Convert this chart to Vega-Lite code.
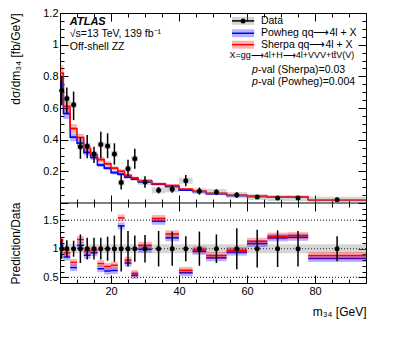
{
  "$schema": "https://vega.github.io/schema/vega-lite/v6.json",
  "padding": {"left": 9, "top": 7, "right": 5, "bottom": 5},
  "width": 306,
  "height": 270,
  "config": {
    "font": "Liberation Sans",
    "view": {"stroke": "black", "strokeWidth": 1},
    "axis": {"grid": false, "domain": false, "minExtent": 0, "tickColor": "black", "tickWidth": 1, "labelColor": "black", "labelFont": "Liberation Sans", "labelFontSize": 11, "titleFont": "Liberation Sans", "titleFontSize": 12, "titleFontWeight": "normal", "titleColor": "black", "labelPadding": 10, "labelOverlap": false, "labelFlush": false}
  },
  "datasets": {
    "bins": [
      {"lo":5,"hi":6,"c":5.5,"d":0.71,"dlo":0.617,"dhi":0.804,"r":0.82,"rl":0.77,"rh":0.87,"b":0.75,"bl":0.705,"bh":0.795,"rr":1.15,"rb":1.06,"elo":0.825,"ehi":1.175},
      {"lo":6,"hi":8,"c":7,"d":0.66,"dlo":0.565,"dhi":0.73,"r":0.61,"rl":0.573,"rh":0.647,"b":0.565,"bl":0.531,"bh":0.599,"rr":0.93,"rb":0.855,"elo":0.85,"ehi":1.15},
      {"lo":8,"hi":10,"c":9,"d":0.62,"dlo":0.523,"dhi":0.704,"r":0.47,"rl":0.442,"rh":0.498,"b":0.415,"bl":0.39,"bh":0.44,"rr":0.76,"rb":0.67,"elo":0.86,"ehi":1.14},
      {"lo":10,"hi":12,"c":11,"d":0.356,"dlo":0.279,"dhi":0.4125,"r":0.413,"rl":0.388,"rh":0.438,"b":0.377,"bl":0.354,"bh":0.4,"rr":1.16,"rb":1.06,"elo":0.75,"ehi":1.25},
      {"lo":12,"hi":14,"c":13,"d":0.36,"dlo":0.283,"dhi":0.43,"r":0.345,"rl":0.324,"rh":0.366,"b":0.319,"bl":0.3,"bh":0.338,"rr":0.96,"rb":0.885,"elo":0.81,"ehi":1.19},
      {"lo":14,"hi":16,"c":15,"d":0.31,"dlo":0.252,"dhi":0.356,"r":0.304,"rl":0.286,"rh":0.322,"b":0.288,"bl":0.271,"bh":0.305,"rr":0.98,"rb":0.93,"elo":0.81,"ehi":1.19},
      {"lo":16,"hi":18,"c":17,"d":0.37,"dlo":0.283,"dhi":0.45,"r":0.274,"rl":0.258,"rh":0.29,"b":0.24,"bl":0.226,"bh":0.254,"rr":0.74,"rb":0.65,"elo":0.81,"ehi":1.19},
      {"lo":18,"hi":20,"c":19,"d":0.36,"dlo":0.283,"dhi":0.44,"r":0.248,"rl":0.233,"rh":0.263,"b":0.22,"bl":0.207,"bh":0.233,"rr":0.69,"rb":0.61,"elo":0.79,"ehi":1.21},
      {"lo":20,"hi":22,"c":21,"d":0.31,"dlo":0.242,"dhi":0.377,"r":0.22,"rl":0.207,"rh":0.233,"b":0.192,"bl":0.18,"bh":0.204,"rr":0.71,"rb":0.62,"elo":0.77,"ehi":1.23},
      {"lo":22,"hi":24,"c":23,"d":0.13,"dlo":0.086,"dhi":0.179,"r":0.2,"rl":0.188,"rh":0.212,"b":0.182,"bl":0.171,"bh":0.193,"rr":1.54,"rb":1.4,"elo":0.6,"ehi":1.4},
      {"lo":24,"hi":26,"c":25,"d":0.217,"dlo":0.169,"dhi":0.273,"r":0.174,"rl":0.164,"rh":0.184,"b":0.163,"bl":0.153,"bh":0.173,"rr":0.8,"rb":0.75,"elo":0.69,"ehi":1.31},
      {"lo":26,"hi":28,"c":27,"d":0.28,"dlo":0.217,"dhi":0.342,"r":0.158,"rl":0.149,"rh":0.167,"b":0.15,"bl":0.141,"bh":0.159,"rr":0.565,"rb":0.535,"elo":0.77,"ehi":1.23},
      {"lo":28,"hi":32,"c":30,"d":0.133,"dlo":0.096,"dhi":0.169,"r":0.141,"rl":0.133,"rh":0.149,"b":0.132,"bl":0.124,"bh":0.14,"rr":1.06,"rb":0.99,"elo":0.76,"ehi":1.24},
      {"lo":32,"hi":36,"c":34,"d":0.08,"dlo":0.061,"dhi":0.102,"r":0.122,"rl":0.115,"rh":0.129,"b":0.118,"bl":0.111,"bh":0.125,"rr":1.53,"rb":1.48,"elo":0.69,"ehi":1.31},
      {"lo":36,"hi":40,"c":38,"d":0.087,"dlo":0.064,"dhi":0.1125,"r":0.11,"rl":0.103,"rh":0.117,"b":0.104,"bl":0.098,"bh":0.11,"rr":1.26,"rb":1.19,"elo":0.7,"ehi":1.3},
      {"lo":40,"hi":44,"c":42,"d":0.14,"dlo":0.106,"dhi":0.177,"r":0.087,"rl":0.082,"rh":0.092,"b":0.081,"bl":0.076,"bh":0.086,"rr":0.62,"rb":0.58,"elo":0.78,"ehi":1.22},
      {"lo":44,"hi":48,"c":46,"d":0.075,"dlo":0.053,"dhi":0.098,"r":0.074,"rl":0.07,"rh":0.078,"b":0.072,"bl":0.068,"bh":0.076,"rr":0.98,"rb":0.955,"elo":0.7,"ehi":1.3},
      {"lo":48,"hi":54,"c":51,"d":0.069,"dlo":0.052,"dhi":0.086,"r":0.061,"rl":0.057,"rh":0.065,"b":0.058,"bl":0.055,"bh":0.061,"rr":0.88,"rb":0.84,"elo":0.75,"ehi":1.25},
      {"lo":54,"hi":60,"c":57,"d":0.05,"dlo":0.032,"dhi":0.068,"r":0.0485,"rl":0.046,"rh":0.051,"b":0.047,"bl":0.044,"bh":0.05,"rr":0.97,"rb":0.94,"elo":0.64,"ehi":1.36},
      {"lo":60,"hi":66,"c":63,"d":0.0375,"dlo":0.025,"dhi":0.05,"r":0.042,"rl":0.04,"rh":0.044,"b":0.041,"bl":0.039,"bh":0.043,"rr":1.13,"rb":1.09,"elo":0.67,"ehi":1.33},
      {"lo":66,"hi":72,"c":69,"d":0.031,"dlo":0.021,"dhi":0.041,"r":0.038,"rl":0.036,"rh":0.04,"b":0.037,"bl":0.035,"bh":0.039,"rr":1.22,"rb":1.19,"elo":0.68,"ehi":1.32},
      {"lo":72,"hi":78,"c":75,"d":0.031,"dlo":0.021,"dhi":0.041,"r":0.038,"rl":0.036,"rh":0.04,"b":0.037,"bl":0.035,"bh":0.039,"rr":1.23,"rb":1.2,"elo":0.69,"ehi":1.31},
      {"lo":78,"hi":95,"c":86.5,"d":0.02,"dlo":0.0156,"dhi":0.0244,"r":0.0176,"rl":0.0166,"rh":0.0186,"b":0.0166,"bl":0.0156,"bh":0.0176,"rr":0.88,"rb":0.83,"elo":0.78,"ehi":1.22}
    ]
  },
  "resolve": {"scale": {"y": "independent"}, "axis": {"x": "independent", "y": "independent"}},
  "layer": [
    {
      "data": {"name": "bins"},
      "resolve": {"axis": {"x": "independent", "y": "independent"}},
      "layer": [
        {
          "mark": {"type": "point", "opacity": 0},
          "encoding": {
            "x": {"datum": 5, "type": "quantitative", "scale": {"domain": [5, 95], "nice": false, "zero": false},
              "axis": {"orient": "bottom", "offset": -80, "values": [5,10,15,20,25,30,35,40,45,50,55,60,65,70,75,80,85,90,95], "tickSize": {"condition": {"test": "datum.value % 20 === 0", "value": -8}, "value": -4}, "labels": false, "title": null}},
            "y": {"datum": 0.5, "type": "quantitative", "scale": {"domain": [0, 1.2], "range": [190, 0], "nice": false, "zero": false},
              "axis": {"orient": "left", "values": [0,0.05,0.1,0.15,0.2,0.25,0.3,0.35,0.4,0.45,0.5,0.55,0.6,0.65,0.7,0.75,0.8,0.85,0.9,0.95,1,1.05,1.1,1.15,1.2], "tickSize": {"condition": {"test": "abs(datum.value*5 - round(datum.value*5)) < 0.001", "value": -8}, "value": -4}, "format": "~g", "labelExpr": "abs(datum.value*5 - round(datum.value*5)) < 0.001 && datum.value > 0.01 ? datum.label : ''", "title": "dσ/dm₃₄ [fb/GeV]", "titleAnchor": "end", "titlePadding": 20}}
          }
        },
        {
          "mark": {"type": "point", "opacity": 0},
          "encoding": {
            "x": {"datum": 5, "type": "quantitative",
              "axis": {"orient": "top", "values": [5,10,15,20,25,30,35,40,45,50,55,60,65,70,75,80,85,90,95], "tickSize": {"condition": {"test": "datum.value % 20 === 0", "value": -8}, "value": -4}, "labels": false, "title": null}},
            "y": {"datum": 0.5, "type": "quantitative",
              "axis": {"orient": "right", "values": [0,0.05,0.1,0.15,0.2,0.25,0.3,0.35,0.4,0.45,0.5,0.55,0.6,0.65,0.7,0.75,0.8,0.85,0.9,0.95,1,1.05,1.1,1.15,1.2], "tickSize": {"condition": {"test": "abs(datum.value*5 - round(datum.value*5)) < 0.001", "value": -8}, "value": -4}, "labels": false, "title": null}}
          }
        },
        {
          "data": {"values": [{}]},
          "mark": {"type": "rule", "color": "black", "strokeWidth": 1},
          "encoding": {"y": {"datum": 0, "type": "quantitative", "axis": null}}
        },
        {
          "mark": {"type": "rect", "color": "#0000ff", "opacity": 0.3},
          "encoding": {
            "x": {"field": "lo", "type": "quantitative", "axis": null}, "x2": {"field": "hi"},
            "y": {"field": "bl", "type": "quantitative", "axis": null}, "y2": {"field": "bh"}
          }
        },
        {
          "mark": {"type": "rect", "color": "#ff0000", "opacity": 0.3},
          "encoding": {
            "x": {"field": "lo", "type": "quantitative", "axis": null}, "x2": {"field": "hi"},
            "y": {"field": "rl", "type": "quantitative", "axis": null}, "y2": {"field": "rh"}
          }
        },
        {
          "mark": {"type": "line", "interpolate": "step-after", "color": "#0000ff", "strokeWidth": 1.5},
          "encoding": {
            "x": {"field": "lo", "type": "quantitative", "axis": null},
            "y": {"field": "b", "type": "quantitative", "axis": null}
          }
        },
        {
          "mark": {"type": "rule", "color": "#0000ff", "strokeWidth": 1.5},
          "encoding": {
            "x": {"field": "lo", "type": "quantitative", "axis": null}, "x2": {"field": "hi"},
            "y": {"field": "b", "type": "quantitative", "axis": null}
          }
        },
        {
          "mark": {"type": "line", "interpolate": "step-after", "color": "#ff0000", "strokeWidth": 1.5},
          "encoding": {
            "x": {"field": "lo", "type": "quantitative", "axis": null},
            "y": {"field": "r", "type": "quantitative", "axis": null}
          }
        },
        {
          "mark": {"type": "rule", "color": "#ff0000", "strokeWidth": 1.5},
          "encoding": {
            "x": {"field": "lo", "type": "quantitative", "axis": null}, "x2": {"field": "hi"},
            "y": {"field": "r", "type": "quantitative", "axis": null}
          }
        },
        {
          "mark": {"type": "rule", "color": "#888888", "opacity": 0.35, "strokeWidth": 6},
          "encoding": {
            "x": {"field": "lo", "type": "quantitative", "axis": null}, "x2": {"field": "hi"},
            "y": {"field": "d", "type": "quantitative", "axis": null}
          }
        },
        {
          "mark": {"type": "rule", "color": "black", "strokeWidth": 1.5},
          "encoding": {
            "x": {"field": "c", "type": "quantitative", "axis": null},
            "y": {"field": "dlo", "type": "quantitative", "axis": null}, "y2": {"field": "dhi"}
          }
        },
        {
          "mark": {"type": "circle", "color": "black", "opacity": 1, "size": 25},
          "encoding": {
            "x": {"field": "c", "type": "quantitative", "axis": null},
            "y": {"field": "d", "type": "quantitative", "axis": null}
          }
        },
        {
          "data": {"values": [{}]},
          "mark": {"type": "text", "text": "ATLAS", "fontWeight": "bold", "fontStyle": "italic", "fontSize": 11, "align": "left", "baseline": "middle"},
          "encoding": {"x": {"datum": 7.9, "type": "quantitative", "axis": null}, "y": {"datum": 1.143, "type": "quantitative", "axis": null}}
        },
        {
          "data": {"values": [{}]},
          "mark": {"type": "text", "text": "√s=13 TeV, 139 fb⁻¹", "fontSize": 10.5, "align": "left", "baseline": "middle"},
          "encoding": {"x": {"datum": 7.9, "type": "quantitative", "axis": null}, "y": {"datum": 1.067, "type": "quantitative", "axis": null}}
        },
        {
          "data": {"values": [{}]},
          "mark": {"type": "text", "text": "Off-shell ZZ", "fontSize": 10.5, "align": "left", "baseline": "middle"},
          "encoding": {"x": {"datum": 7.9, "type": "quantitative", "axis": null}, "y": {"datum": 0.985, "type": "quantitative", "axis": null}}
        },
        {
          "data": {"values": [{}]},
          "mark": {"type": "rect", "color": "#888888", "opacity": 0.35},
          "encoding": {"x": {"datum": 55.6, "type": "quantitative", "axis": null}, "x2": {"datum": 62.1}, "y": {"datum": 1.125, "type": "quantitative", "axis": null}, "y2": {"datum": 1.175}}
        },
        {
          "data": {"values": [{}]},
          "mark": {"type": "rule", "color": "black", "strokeWidth": 1.5},
          "encoding": {"x": {"datum": 55.6, "type": "quantitative", "axis": null}, "x2": {"datum": 62.1}, "y": {"datum": 1.15, "type": "quantitative", "axis": null}}
        },
        {
          "data": {"values": [{}]},
          "mark": {"type": "circle", "color": "black", "opacity": 1, "size": 25},
          "encoding": {"x": {"datum": 58.85, "type": "quantitative", "axis": null}, "y": {"datum": 1.15, "type": "quantitative", "axis": null}}
        },
        {
          "data": {"values": [{}]},
          "mark": {"type": "rect", "color": "#0000ff", "opacity": 0.3},
          "encoding": {"x": {"datum": 55.6, "type": "quantitative", "axis": null}, "x2": {"datum": 62.1}, "y": {"datum": 1.047, "type": "quantitative", "axis": null}, "y2": {"datum": 1.097}}
        },
        {
          "data": {"values": [{}]},
          "mark": {"type": "rule", "color": "#0000ff", "strokeWidth": 1.5},
          "encoding": {"x": {"datum": 55.6, "type": "quantitative", "axis": null}, "x2": {"datum": 62.1}, "y": {"datum": 1.072, "type": "quantitative", "axis": null}}
        },
        {
          "data": {"values": [{}]},
          "mark": {"type": "rect", "color": "#ff0000", "opacity": 0.3},
          "encoding": {"x": {"datum": 55.6, "type": "quantitative", "axis": null}, "x2": {"datum": 62.1}, "y": {"datum": 0.975, "type": "quantitative", "axis": null}, "y2": {"datum": 1.025}}
        },
        {
          "data": {"values": [{}]},
          "mark": {"type": "rule", "color": "#ff0000", "strokeWidth": 1.5},
          "encoding": {"x": {"datum": 55.6, "type": "quantitative", "axis": null}, "x2": {"datum": 62.1}, "y": {"datum": 1.0, "type": "quantitative", "axis": null}}
        },
        {
          "data": {"values": [{}]},
          "mark": {"type": "text", "text": "Data", "fontSize": 10.5, "align": "left", "baseline": "middle"},
          "encoding": {"x": {"datum": 64.1, "type": "quantitative", "axis": null}, "y": {"datum": 1.15, "type": "quantitative", "axis": null}}
        },
        {
          "data": {"values": [{}]},
          "mark": {"type": "text", "text": "Powheg qq⟶4l + X", "fontSize": 10.5, "align": "left", "baseline": "middle"},
          "encoding": {"x": {"datum": 64.1, "type": "quantitative", "axis": null}, "y": {"datum": 1.072, "type": "quantitative", "axis": null}}
        },
        {
          "data": {"values": [{}]},
          "mark": {"type": "text", "text": "Sherpa qq⟶4l + X", "fontSize": 10.5, "align": "left", "baseline": "middle"},
          "encoding": {"x": {"datum": 64.1, "type": "quantitative", "axis": null}, "y": {"datum": 1.0, "type": "quantitative", "axis": null}}
        },
        {
          "data": {"values": [{}]},
          "mark": {"type": "text", "text": "X=gg⟶4l+H⟶4l+VVV+tt̄V(V)", "fontSize": 9, "align": "center", "baseline": "middle"},
          "encoding": {"x": {"datum": 73.2, "type": "quantitative", "axis": null}, "y": {"datum": 0.933, "type": "quantitative", "axis": null}}
        },
        {
          "data": {"values": [{}]},
          "mark": {"type": "text", "text": "p", "fontStyle": "italic", "fontSize": 10.5, "align": "left", "baseline": "middle"},
          "encoding": {"x": {"datum": 61.5, "type": "quantitative", "axis": null}, "y": {"datum": 0.84, "type": "quantitative", "axis": null}}
        },
        {
          "data": {"values": [{}]},
          "mark": {"type": "text", "text": "-val (Sherpa)=0.03", "fontSize": 10.5, "align": "left", "baseline": "middle"},
          "encoding": {"x": {"datum": 63.2, "type": "quantitative", "axis": null}, "y": {"datum": 0.84, "type": "quantitative", "axis": null}}
        },
        {
          "data": {"values": [{}]},
          "mark": {"type": "text", "text": "p", "fontStyle": "italic", "fontSize": 10.5, "align": "left", "baseline": "middle"},
          "encoding": {"x": {"datum": 61.5, "type": "quantitative", "axis": null}, "y": {"datum": 0.764, "type": "quantitative", "axis": null}}
        },
        {
          "data": {"values": [{}]},
          "mark": {"type": "text", "text": "-val (Powheg)=0.004", "fontSize": 10.5, "align": "left", "baseline": "middle"},
          "encoding": {"x": {"datum": 63.2, "type": "quantitative", "axis": null}, "y": {"datum": 0.764, "type": "quantitative", "axis": null}}
        }
      ]
    },
    {
      "data": {"name": "bins"},
      "resolve": {"axis": {"x": "independent", "y": "independent"}},
      "layer": [
        {
          "mark": {"type": "point", "opacity": 0},
          "encoding": {
            "x": {"datum": 5, "type": "quantitative", "scale": {"domain": [5, 95], "nice": false, "zero": false},
              "axis": {"orient": "bottom", "values": [5,10,15,20,25,30,35,40,45,50,55,60,65,70,75,80,85,90,95], "tickSize": {"condition": {"test": "datum.value % 20 === 0", "value": -8}, "value": -4}, "format": "~g", "labelExpr": "datum.value % 20 === 0 ? datum.label : ''", "title": "m₃₄ [GeV]", "titleAnchor": "end", "titlePadding": 6}},
            "y": {"datum": 1, "type": "quantitative", "scale": {"domain": [0.4, 1.8], "range": [270, 190], "nice": false, "zero": false},
              "axis": {"orient": "left", "values": [0.4,0.5,0.6,0.7,0.8,0.9,1,1.1,1.2,1.3,1.4,1.5,1.6,1.7,1.8], "tickSize": {"condition": {"test": "abs(datum.value*2 - round(datum.value*2)) < 0.001", "value": -8}, "value": -4}, "format": "~g", "labelExpr": "abs(datum.value*2 - round(datum.value*2)) < 0.001 ? datum.label : ''", "title": "Prediction/Data", "titleAnchor": "middle", "titlePadding": 20}}
          }
        },
        {
          "mark": {"type": "point", "opacity": 0},
          "encoding": {
            "x": {"datum": 5, "type": "quantitative",
              "axis": {"orient": "top", "offset": -190, "values": [5,10,15,20,25,30,35,40,45,50,55,60,65,70,75,80,85,90,95], "tickSize": {"condition": {"test": "datum.value % 20 === 0", "value": -8}, "value": -4}, "labels": false, "title": null}},
            "y": {"datum": 1, "type": "quantitative",
              "axis": {"orient": "right", "values": [0.4,0.5,0.6,0.7,0.8,0.9,1,1.1,1.2,1.3,1.4,1.5,1.6,1.7,1.8], "tickSize": {"condition": {"test": "abs(datum.value*2 - round(datum.value*2)) < 0.001", "value": -8}, "value": -4}, "labels": false, "title": null}}
          }
        },
        {
          "data": {"values": [{"v": 0.5}, {"v": 1}, {"v": 1.5}]},
          "mark": {"type": "rule", "color": "black", "strokeWidth": 1, "strokeDash": [1, 2]},
          "encoding": {"y": {"field": "v", "type": "quantitative", "axis": null}}
        },
        {
          "data": {"values": [{}]},
          "mark": {"type": "rule", "color": "#888888", "opacity": 0.35, "strokeWidth": 9},
          "encoding": {"x": {"datum": 5, "type": "quantitative", "axis": null}, "x2": {"datum": 95}, "y": {"datum": 1, "type": "quantitative", "axis": null}}
        },
        {
          "mark": {"type": "rule", "color": "#0000ff", "opacity": 0.3, "strokeWidth": 7},
          "encoding": {
            "x": {"field": "lo", "type": "quantitative", "axis": null}, "x2": {"field": "hi"},
            "y": {"field": "rb", "type": "quantitative", "axis": null}
          }
        },
        {
          "mark": {"type": "rule", "color": "#0000ff", "strokeWidth": 1.5},
          "encoding": {
            "x": {"field": "lo", "type": "quantitative", "axis": null}, "x2": {"field": "hi"},
            "y": {"field": "rb", "type": "quantitative", "axis": null}
          }
        },
        {
          "mark": {"type": "rule", "color": "#ff0000", "opacity": 0.3, "strokeWidth": 7},
          "encoding": {
            "x": {"field": "lo", "type": "quantitative", "axis": null}, "x2": {"field": "hi"},
            "y": {"field": "rr", "type": "quantitative", "axis": null}
          }
        },
        {
          "mark": {"type": "rule", "color": "#ff0000", "strokeWidth": 1.5},
          "encoding": {
            "x": {"field": "lo", "type": "quantitative", "axis": null}, "x2": {"field": "hi"},
            "y": {"field": "rr", "type": "quantitative", "axis": null}
          }
        },
        {
          "mark": {"type": "rule", "color": "black", "strokeWidth": 1.5},
          "encoding": {
            "x": {"field": "c", "type": "quantitative", "axis": null},
            "y": {"field": "elo", "type": "quantitative", "axis": null}, "y2": {"field": "ehi"}
          }
        },
        {
          "mark": {"type": "circle", "color": "black", "opacity": 1, "size": 25},
          "encoding": {
            "x": {"field": "c", "type": "quantitative", "axis": null},
            "y": {"datum": 1, "type": "quantitative", "axis": null}
          }
        }
      ]
    }
  ]
}
